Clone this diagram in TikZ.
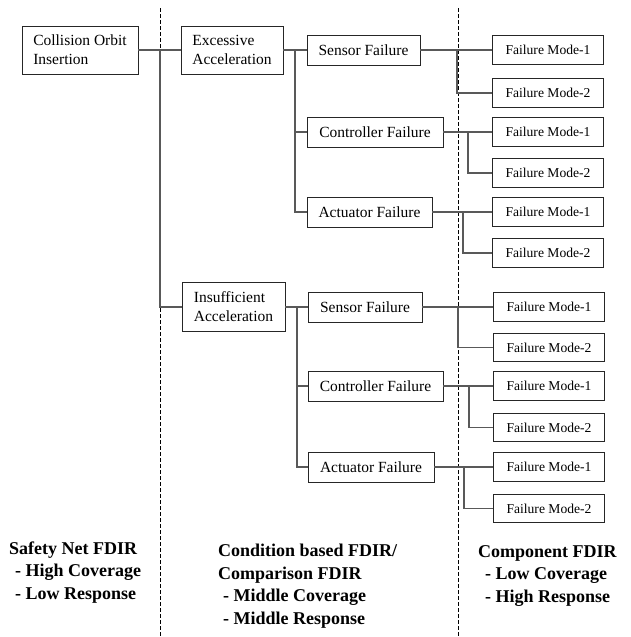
\documentclass[tikz,border=0pt]{standalone}
\usepackage{fontspec}
\setmainfont{Liberation Serif}
\begin{document}
\begin{tikzpicture}[x=1pt,y=-1pt,
  box/.style={draw=black!85, line width=0.9pt, inner sep=0pt, align=left,
    font=\fontsize{15.5}{19}\selectfont},
  twoline/.style={box, minimum height=48pt},
  failbox/.style={box, minimum height=30pt},
  modebox/.style={box, minimum width=111pt, minimum height=28.5pt,
    font=\fontsize{13.6}{16}\selectfont},
  conn/.style={draw=black!65, line width=1.2pt},
  divider/.style={draw=black, line width=0.8pt, dash pattern=on 3.5pt off 2.5pt},
  level/.style={inner sep=0pt, anchor=base west, align=left,
    font=\fontsize{18}{22.5}\selectfont\bfseries}
]
\useasboundingbox (0,0) rectangle (630,637);

% column dividers
\coordinate (d1t) at (160,8);  \coordinate (d1b) at (160,637);
\coordinate (d2t) at (458,8);  \coordinate (d2b) at (458,637);
\draw[divider] (d1t) -- (d1b);
\draw[divider] (d2t) -- (d2b);

% top event and conditions
\node[twoline, minimum width=116pt] (coi) at (80,50) {Collision Orbit\\Insertion};
\node[twoline, minimum width=102pt] (exc) at (232,50) {Excessive\\Acceleration};
\node[twoline, minimum width=103pt, minimum height=49pt] (ins) at (233.5,307) {Insufficient\\Acceleration};

% subsystem failures
\node[failbox, minimum width=113pt] (sf1) at (363.5,50)  {Sensor Failure};
\node[failbox, minimum width=136pt] (cf1) at (375,132)   {Controller Failure};
\node[failbox, minimum width=125pt] (af1) at (369.5,212) {Actuator Failure};
\node[failbox, minimum width=114pt] (sf2) at (365,307)   {Sensor Failure};
\node[failbox, minimum width=135pt] (cf2) at (375.5,386) {Controller Failure};
\node[failbox, minimum width=126pt] (af2) at (371,467)   {Actuator Failure};

% component failure modes
\node[modebox] (sf1a) at (548,50)    {Failure Mode-1};
\node[modebox] (sf1b) at (548,93)    {Failure Mode-2};
\node[modebox] (cf1a) at (548,132)   {Failure Mode-1};
\node[modebox] (cf1b) at (548,173)   {Failure Mode-2};
\node[modebox] (af1a) at (548,212)   {Failure Mode-1};
\node[modebox] (af1b) at (548,253)   {Failure Mode-2};
\node[modebox] (sf2a) at (549,307)   {Failure Mode-1};
\node[modebox] (sf2b) at (549,347.5) {Failure Mode-2};
\node[modebox] (cf2a) at (549,386)   {Failure Mode-1};
\node[modebox] (cf2b) at (549,427.5) {Failure Mode-2};
\node[modebox] (af2a) at (549,467)   {Failure Mode-1};
\node[modebox] (af2b) at (549,508.5) {Failure Mode-2};

% branch points
\coordinate (j0) at (160,50);
\coordinate (j1) at (295,50);
\coordinate (j2) at (297,307);
\coordinate (ks1) at (457,50);
\coordinate (kc1) at (468,132);
\coordinate (ka1) at (463,212);
\coordinate (ks2) at (458,307);
\coordinate (kc2) at (469,386);
\coordinate (ka2) at (464,467);

% tree connectors
\draw[conn] (coi.east) -- (exc.west);
\draw[conn] (j0) |- (ins.west);
\draw[conn] (exc.east) -- (sf1.west);
\draw[conn] (j1) |- (cf1.west);
\draw[conn] (j1) |- (af1.west);
\draw[conn] (ins.east) -- (sf2.west);
\draw[conn] (j2) |- (cf2.west);
\draw[conn] (j2) |- (af2.west);

\draw[conn] (sf1.east) -- (sf1a.west);  \draw[conn] (ks1) |- (sf1b.west);
\draw[conn] (cf1.east) -- (cf1a.west);  \draw[conn] (kc1) |- (cf1b.west);
\draw[conn] (af1.east) -- (af1a.west);  \draw[conn] (ka1) |- (af1b.west);
\draw[conn] (sf2.east) -- (sf2a.west);  \draw[conn] (ks2) |- (sf2b.west);
\draw[conn] (cf2.east) -- (cf2a.west);  \draw[conn] (kc2) |- (cf2b.west);
\draw[conn] (af2.east) -- (af2a.west);  \draw[conn] (ka2) |- (af2b.west);

% FDIR level captions (anchored at the baseline of their last line)
\node[level] (lvl1) at (9,599) {Safety Net FDIR\\\hspace*{6pt}- High Coverage\\\hspace*{6pt}- Low Response};
\node[level] (lvl2) at (218,624) {Condition based FDIR/\\Comparison FDIR\\\hspace*{5pt}- Middle Coverage\\\hspace*{5pt}- Middle Response};
\node[level] (lvl3) at (478,602) {Component FDIR\\\hspace*{7pt}- Low Coverage\\\hspace*{7pt}- High Response};
\end{tikzpicture}
\end{document}
